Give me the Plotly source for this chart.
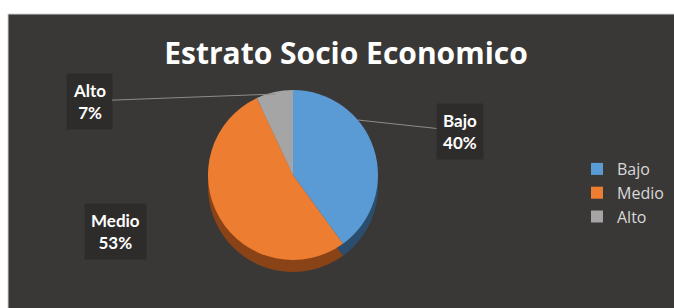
import plotly.graph_objects as go

categories = ["Bajo", "Medio", "Alto"]
values = [40, 53, 7]
colors = ["#5B9BD5", "#ED7D31", "#A5A5A5"]
side_colors = ["#2C4E6E", "#8A4316", "#6A6A6A"]
title_text = "Estrato Socio Economico"

W, H = 674, 308
total = sum(values)
pcts = [round(v * 100 / total) for v in values]

def px_x(p):
    return p / W

def px_y(p):
    return 1 - p / H

cx, cy, r, depth = 293, 175, 85, 12

fig = go.Figure()
# side (depth) of the pie
fig.add_trace(go.Pie(
    labels=categories, values=values, sort=False, direction="clockwise", rotation=0,
    marker=dict(colors=side_colors, line=dict(width=0)),
    textinfo="none", hoverinfo="skip", showlegend=False,
    domain=dict(x=[px_x(cx - r), px_x(cx + r)], y=[px_y(cy + depth + r), px_y(cy + depth - r)]),
))
# top face
fig.add_trace(go.Pie(
    labels=categories, values=values, sort=False, direction="clockwise", rotation=0,
    marker=dict(colors=colors, line=dict(width=0)),
    textinfo="none", showlegend=True,
    domain=dict(x=[px_x(cx - r), px_x(cx + r)], y=[px_y(cy + r), px_y(cy - r)]),
))

label_pos = {"Bajo": (460, 131), "Medio": (84, 260), "Alto": (89, 101)}
arrow_tip = {"Bajo": (358, 120), "Alto": (276, 94)}
for cat, p in zip(categories, pcts):
    tx, ty = label_pos[cat]
    txt = f"<b>{cat}<br>{p}%</b>"
    common = dict(text=txt, xref="paper", yref="paper",
                  font=dict(family="Lato", size=17, color="#FFFFFF"),
                  bgcolor="#2E2C2A", borderpad=6, align="center")
    if cat in arrow_tip:
        ax_, ay_ = arrow_tip[cat]
        fig.add_annotation(x=px_x(ax_), y=px_y(ay_), showarrow=True, arrowhead=0,
                           arrowcolor="#8C8C8C", arrowwidth=1,
                           ax=tx - ax_, ay=ty - ay_, **common)
    else:
        fig.add_annotation(x=px_x(tx), y=px_y(ty), showarrow=False, **common)

fig.add_shape(type="rect", xref="paper", yref="paper",
              x0=px_x(8), x1=1.02, y0=-0.02, y1=px_y(14),
              fillcolor="#3A3836", line=dict(color="#D0D0D0", width=1), layer="below")

fig.update_layout(
    width=W, height=H,
    margin=dict(l=0, r=0, t=0, b=0),
    paper_bgcolor="#FFFFFF", plot_bgcolor="#FFFFFF",
    title=dict(text=f"<b>{title_text}</b>", x=px_x(346), xanchor="center",
               y=px_y(53), yanchor="middle",
               font=dict(family="Open Sans", size=30, color="#FFFFFF")),
    legend=dict(x=px_x(577), xanchor="left", y=px_y(193), yanchor="middle",
                font=dict(family="Open Sans", size=16, color="#D9D9D9"),
                bgcolor="rgba(0,0,0,0)", itemclick=False),
)

fig.write_html("out.html", config={"displayModeBar": False},
               post_script="document.body.style.margin='0px';document.body.style.overflow='hidden';")
